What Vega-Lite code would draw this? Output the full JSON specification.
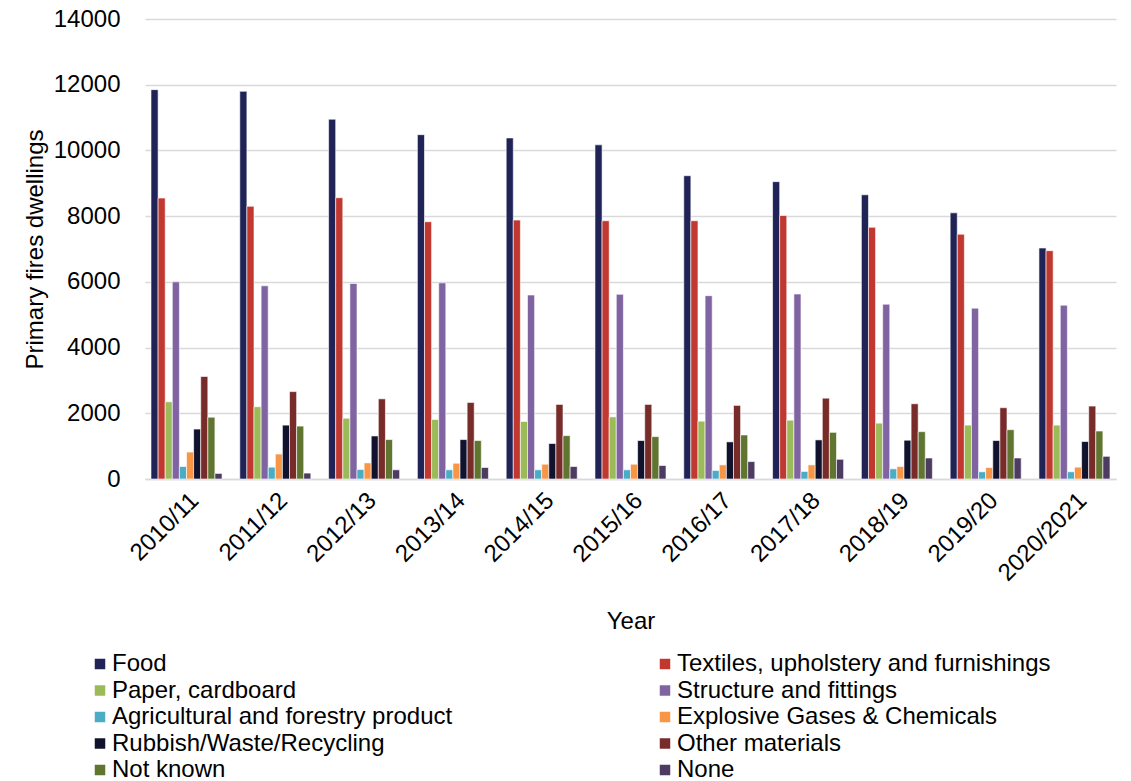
{
  "$schema": "https://vega.github.io/schema/vega-lite/v6.json",
  "autosize": {"type": "none"},
  "padding": {"left": 145, "top": 19, "right": 9, "bottom": 302},
  "width": 977,
  "height": 460,
  "background": "white",
  "config": {
    "font": "Liberation Sans",
    "view": {"stroke": null},
    "axis": {"labelFont": "Liberation Sans", "titleFont": "Liberation Sans", "labelColor": "#000000", "titleColor": "#000000", "titleFontWeight": "normal"}
  },
  "data": {"values": [
    {"year":"2010/11","cat":"Food","value":11850},{"year":"2010/11","cat":"Textiles, upholstery and furnishings","value":8550},{"year":"2010/11","cat":"Paper, cardboard","value":2350},{"year":"2010/11","cat":"Structure and fittings","value":6000},{"year":"2010/11","cat":"Agricultural and forestry product","value":380},{"year":"2010/11","cat":"Explosive Gases & Chemicals","value":820},{"year":"2010/11","cat":"Rubbish/Waste/Recycling","value":1520},{"year":"2010/11","cat":"Other materials","value":3120},{"year":"2010/11","cat":"Not known","value":1880},{"year":"2010/11","cat":"None","value":170},
    {"year":"2011/12","cat":"Food","value":11800},{"year":"2011/12","cat":"Textiles, upholstery and furnishings","value":8300},{"year":"2011/12","cat":"Paper, cardboard","value":2200},{"year":"2011/12","cat":"Structure and fittings","value":5880},{"year":"2011/12","cat":"Agricultural and forestry product","value":360},{"year":"2011/12","cat":"Explosive Gases & Chemicals","value":760},{"year":"2011/12","cat":"Rubbish/Waste/Recycling","value":1640},{"year":"2011/12","cat":"Other materials","value":2660},{"year":"2011/12","cat":"Not known","value":1610},{"year":"2011/12","cat":"None","value":180},
    {"year":"2012/13","cat":"Food","value":10950},{"year":"2012/13","cat":"Textiles, upholstery and furnishings","value":8560},{"year":"2012/13","cat":"Paper, cardboard","value":1850},{"year":"2012/13","cat":"Structure and fittings","value":5950},{"year":"2012/13","cat":"Agricultural and forestry product","value":290},{"year":"2012/13","cat":"Explosive Gases & Chemicals","value":490},{"year":"2012/13","cat":"Rubbish/Waste/Recycling","value":1310},{"year":"2012/13","cat":"Other materials","value":2440},{"year":"2012/13","cat":"Not known","value":1200},{"year":"2012/13","cat":"None","value":280},
    {"year":"2013/14","cat":"Food","value":10480},{"year":"2013/14","cat":"Textiles, upholstery and furnishings","value":7830},{"year":"2013/14","cat":"Paper, cardboard","value":1810},{"year":"2013/14","cat":"Structure and fittings","value":5970},{"year":"2013/14","cat":"Agricultural and forestry product","value":280},{"year":"2013/14","cat":"Explosive Gases & Chemicals","value":480},{"year":"2013/14","cat":"Rubbish/Waste/Recycling","value":1200},{"year":"2013/14","cat":"Other materials","value":2330},{"year":"2013/14","cat":"Not known","value":1170},{"year":"2013/14","cat":"None","value":350},
    {"year":"2014/15","cat":"Food","value":10380},{"year":"2014/15","cat":"Textiles, upholstery and furnishings","value":7880},{"year":"2014/15","cat":"Paper, cardboard","value":1750},{"year":"2014/15","cat":"Structure and fittings","value":5600},{"year":"2014/15","cat":"Agricultural and forestry product","value":280},{"year":"2014/15","cat":"Explosive Gases & Chemicals","value":450},{"year":"2014/15","cat":"Rubbish/Waste/Recycling","value":1080},{"year":"2014/15","cat":"Other materials","value":2270},{"year":"2014/15","cat":"Not known","value":1320},{"year":"2014/15","cat":"None","value":380},
    {"year":"2015/16","cat":"Food","value":10170},{"year":"2015/16","cat":"Textiles, upholstery and furnishings","value":7860},{"year":"2015/16","cat":"Paper, cardboard","value":1890},{"year":"2015/16","cat":"Structure and fittings","value":5620},{"year":"2015/16","cat":"Agricultural and forestry product","value":280},{"year":"2015/16","cat":"Explosive Gases & Chemicals","value":450},{"year":"2015/16","cat":"Rubbish/Waste/Recycling","value":1170},{"year":"2015/16","cat":"Other materials","value":2270},{"year":"2015/16","cat":"Not known","value":1290},{"year":"2015/16","cat":"None","value":410},
    {"year":"2016/17","cat":"Food","value":9230},{"year":"2016/17","cat":"Textiles, upholstery and furnishings","value":7860},{"year":"2016/17","cat":"Paper, cardboard","value":1760},{"year":"2016/17","cat":"Structure and fittings","value":5580},{"year":"2016/17","cat":"Agricultural and forestry product","value":260},{"year":"2016/17","cat":"Explosive Gases & Chemicals","value":430},{"year":"2016/17","cat":"Rubbish/Waste/Recycling","value":1130},{"year":"2016/17","cat":"Other materials","value":2240},{"year":"2016/17","cat":"Not known","value":1340},{"year":"2016/17","cat":"None","value":530},
    {"year":"2017/18","cat":"Food","value":9050},{"year":"2017/18","cat":"Textiles, upholstery and furnishings","value":8020},{"year":"2017/18","cat":"Paper, cardboard","value":1790},{"year":"2017/18","cat":"Structure and fittings","value":5630},{"year":"2017/18","cat":"Agricultural and forestry product","value":230},{"year":"2017/18","cat":"Explosive Gases & Chemicals","value":430},{"year":"2017/18","cat":"Rubbish/Waste/Recycling","value":1190},{"year":"2017/18","cat":"Other materials","value":2460},{"year":"2017/18","cat":"Not known","value":1420},{"year":"2017/18","cat":"None","value":600},
    {"year":"2018/19","cat":"Food","value":8650},{"year":"2018/19","cat":"Textiles, upholstery and furnishings","value":7660},{"year":"2018/19","cat":"Paper, cardboard","value":1700},{"year":"2018/19","cat":"Structure and fittings","value":5320},{"year":"2018/19","cat":"Agricultural and forestry product","value":310},{"year":"2018/19","cat":"Explosive Gases & Chemicals","value":380},{"year":"2018/19","cat":"Rubbish/Waste/Recycling","value":1180},{"year":"2018/19","cat":"Other materials","value":2290},{"year":"2018/19","cat":"Not known","value":1440},{"year":"2018/19","cat":"None","value":640},
    {"year":"2019/20","cat":"Food","value":8100},{"year":"2019/20","cat":"Textiles, upholstery and furnishings","value":7450},{"year":"2019/20","cat":"Paper, cardboard","value":1640},{"year":"2019/20","cat":"Structure and fittings","value":5200},{"year":"2019/20","cat":"Agricultural and forestry product","value":220},{"year":"2019/20","cat":"Explosive Gases & Chemicals","value":350},{"year":"2019/20","cat":"Rubbish/Waste/Recycling","value":1170},{"year":"2019/20","cat":"Other materials","value":2170},{"year":"2019/20","cat":"Not known","value":1500},{"year":"2019/20","cat":"None","value":640},
    {"year":"2020/2021","cat":"Food","value":7030},{"year":"2020/2021","cat":"Textiles, upholstery and furnishings","value":6950},{"year":"2020/2021","cat":"Paper, cardboard","value":1640},{"year":"2020/2021","cat":"Structure and fittings","value":5290},{"year":"2020/2021","cat":"Agricultural and forestry product","value":220},{"year":"2020/2021","cat":"Explosive Gases & Chemicals","value":360},{"year":"2020/2021","cat":"Rubbish/Waste/Recycling","value":1140},{"year":"2020/2021","cat":"Other materials","value":2220},{"year":"2020/2021","cat":"Not known","value":1460},{"year":"2020/2021","cat":"None","value":690}
  ]},
  "mark": {"type": "bar", "stroke": "#ffffff", "strokeWidth": 0.6},
  "encoding": {
    "x": {
      "field": "year", "type": "nominal", "sort": null,
      "scale": {"paddingInner": 0.2, "paddingOuter": 0.0676, "range": [0, 971]},
      "axis": {
        "title": "Year", "titleFontSize": 24, "titlePadding": 24,
        "labelAngle": -45, "labelFontSize": 24, "labelPadding": 9,
        "ticks": false, "domainColor": "#d9d9d9", "domainWidth": 1.5, "grid": false
      }
    },
    "xOffset": {
      "field": "cat", "type": "nominal", "sort": null,
      "scale": {"paddingInner": 0, "paddingOuter": 0}
    },
    "y": {
      "field": "value", "type": "quantitative",
      "scale": {"domain": [0, 14000]},
      "axis": {
        "title": "Primary fires dwellings", "titleFontSize": 24, "titlePadding": 6,
        "labelFontSize": 24, "labelPadding": 25, "ticks": false, "domain": false,
        "values": [0, 2000, 4000, 6000, 8000, 10000, 12000, 14000],
        "format": "d", "gridColor": "#d9d9d9", "gridWidth": 1.5
      }
    },
    "color": {
      "field": "cat", "type": "nominal",
      "scale": {
        "domain": ["Food", "Textiles, upholstery and furnishings", "Paper, cardboard", "Structure and fittings", "Agricultural and forestry product", "Explosive Gases & Chemicals", "Rubbish/Waste/Recycling", "Other materials", "Not known", "None"],
        "range": ["#1f2356", "#c0382f", "#9bbb59", "#8064a2", "#4bacc6", "#f79646", "#10122e", "#772c2a", "#5f7530", "#4d3b62"]
      },
      "legend": {
        "title": null, "orient": "none", "legendX": -57, "legendY": 633,
        "direction": "horizontal", "columns": 2, "columnPadding": 200, "rowPadding": 2.5,
        "symbolType": "square", "symbolSize": 110, "symbolStrokeWidth": 0, "symbolOffset": 0,
        "labelFontSize": 24, "labelFont": "Liberation Sans", "labelColor": "#000000", "labelOffset": 0, "labelLimit": 600
      }
    }
  }
}
